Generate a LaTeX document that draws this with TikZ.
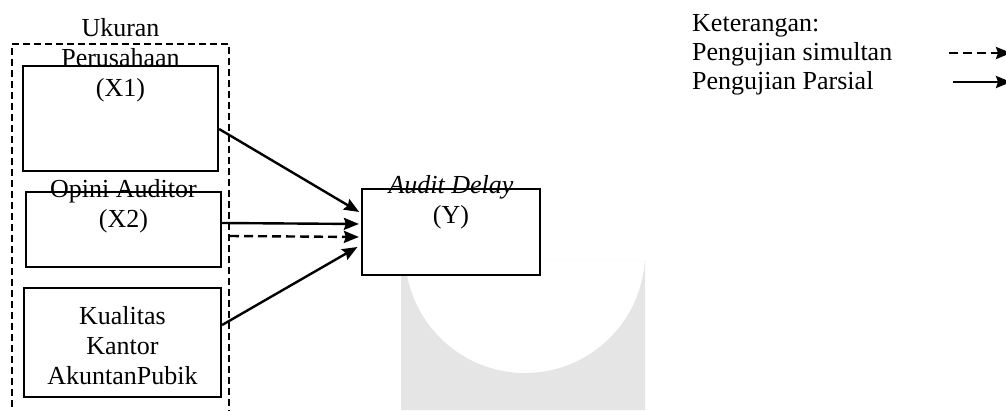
\documentclass[tikz,border=0pt]{standalone}
\usepackage{fontspec}
\setmainfont{Liberation Serif}
\usetikzlibrary{arrows.meta}
\definecolor{wmgray}{RGB}{229,229,229}
\begin{document}
\begin{tikzpicture}[x=1pt,y=-1pt,
  boxnode/.style={draw,line width=2.2pt,rectangle,inner sep=0pt,fill=white},
  lbl/.style={inner sep=0pt,align=center,font=\fontsize{26}{30}\selectfont,anchor=base},
  legtxt/.style={inner sep=0pt,align=left,font=\fontsize{26}{29}\selectfont,anchor=base west},
  conn/.style={line width=2.4pt,-{Stealth[length=15pt,width=12pt,inset=2pt]}},
  dconn/.style={conn,dash pattern=on 9pt off 5pt},
  grpbox/.style={draw,line width=2pt,dash pattern=on 7pt off 4pt,rectangle,inner sep=0pt}
]
\useasboundingbox (0,0) rectangle (1006,410);
% faint watermark
\begin{scope}
  \clip (401,260) rectangle (645,410);
  \fill[wmgray,even odd rule] (401,260) rectangle (645,410) (525,253) circle (120);
\end{scope}
% group box (open at bottom)
\node[grpbox,minimum width=217pt,minimum height=376pt] (grp) at (120.5,232) {};
% boxes
\node[boxnode,minimum width=195pt,minimum height=105pt] (x1) at (120.5,118.5) {};
\node[boxnode,minimum width=195pt,minimum height=75pt] (x2) at (123.5,229.5) {};
\node[boxnode,minimum width=197pt,minimum height=109pt] (x3) at (122.5,342.5) {};
\node[boxnode,minimum width=178pt,minimum height=86pt] (y) at (451,232) {};
% labels (base anchor = baseline of the last line)
\node[lbl] (t1) at (120.5,96) {Ukuran\\Perusahaan\\(X1)};
\node[lbl] (t2) at (123.5,227) {Opini Auditor\\(X2)};
\node[lbl] (t3) at (122.5,384) {Kualitas\\Kantor\\AkuntanPubik};
\node[lbl] (ty) at (451,223) {\textit{Audit Delay}\\(Y)};
% connectors
\draw[conn,shorten >=2pt] ([yshift=-10.5pt]x1.east) -- ([yshift=19pt]y.west);
\draw[conn,shorten >=2pt] ([yshift=6.5pt]x2.east) -- ([yshift=8pt]y.west);
\draw[dconn,shorten >=2pt] ([yshift=-4pt]grp.east) -- ([yshift=-5pt]y.west);
\draw[conn,shorten >=4pt] ([yshift=17.5pt]x3.east) -- ([yshift=-13pt]y.west);
% legend
\node[legtxt] (leg) at (692,89) {Keterangan:\\Pengujian simultan\\Pengujian Parsial};
\coordinate (ls1) at (949,53);
\coordinate (le1) at (1011,53);
\coordinate (ls2) at (953,82);
\coordinate (le2) at (1011,82);
\draw[dconn] (ls1) -- (le1);
\draw[conn] (ls2) -- (le2);
\end{tikzpicture}
\end{document}
